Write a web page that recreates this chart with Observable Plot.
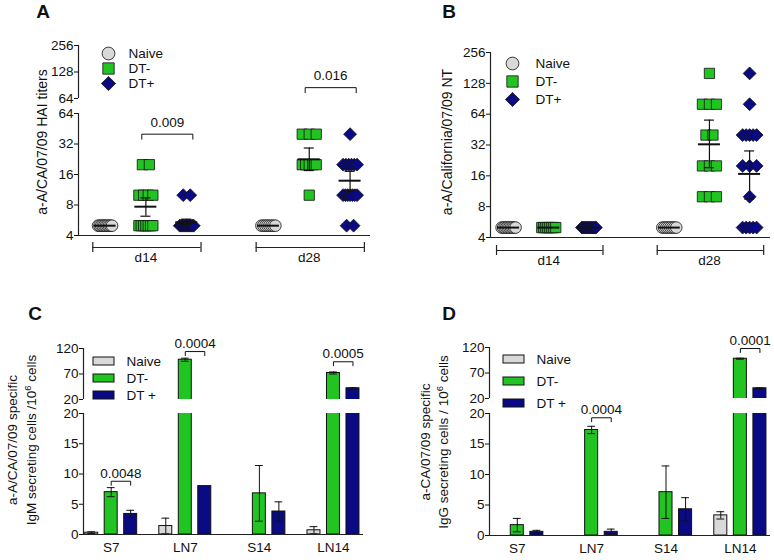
<!DOCTYPE html>
<html>
<head>
<meta charset="utf-8">
<script src="https://cdn.jsdelivr.net/npm/d3@7"></script>
<script src="https://cdn.jsdelivr.net/npm/@observablehq/plot@0.6"></script>
<style>
html,body{margin:0;padding:0;background:#fff;}
#fig{position:relative;width:774px;height:560px;overflow:hidden;background:#fff;font-family:"Liberation Sans",Arial,Helvetica,sans-serif;color:#111;}
.t{position:absolute;white-space:nowrap;}
.panel{font-weight:bold;font-size:19px;transform:translate(-50%,-50%);}
.ytitle{font-size:14px;text-align:center;transform:translate(-50%,-50%) rotate(-90deg);}
sup{font-size:70%;line-height:0;}
</style>
</head>
<body>
<div id="fig"></div>
<script>
// ---------- shared categories ----------
const series = ["Naive", "DT-", "DT+"];
const legendAB = ["Naive", "DT-", "DT+"];
const legendCD = ["Naive", "DT-", "DT +"];
const seriesColors = ["#d9d9d9", "#22c422", "#0a0a84"];
const seriesSymbols = ["circle", "square", "diamond2"];
const daysAB = ["d14", "d28"];
const organsCD = ["S7", "LN7", "S14", "LN14"];

// ---------- Panel A: HAI titers (one value per mouse) ----------
const hai_d14_Naive = [5,5,5,5,5,5,5,5,5,5];
const hai_d14_DTneg = [20,20,10,10,10,10,5,5,5,5,5,5,5];
const hai_d14_DTpos = [10,10,5,5,5,5,5,5,5,5,5,5,5];
const hai_d28_Naive = [5,5,5,5,5,5,5,5];
const hai_d28_DTneg = [40,40,40,20,20,20,20,20,10];
const hai_d28_DTpos = [40,20,20,20,20,20,20,10,10,10,10,10,10,10,5,5];
const haiMean    = [5, 7.7, 5.4, 5, 22.6, 13.9];
const haiSemLow  = [5, 6.2, 5.15, 5, 17.5, 11.1];
const haiSemHigh = [5, 9.4, 5.8, 5, 29.2, 17.2];
const haiTicksUpper = [64, 128, 256];
const haiTicksLower = [4, 8, 16, 32, 64];
const haiSigDay = ["d14", "d28"];
const haiSigLevel = [40, 85];
const haiSigLabel = ["0.009", "0.016"];

// ---------- Panel B: NT titers ----------
const nt_d14_Naive = [5,5,5,5,5,5,5,5,5,5];
const nt_d14_DTneg = [5,5,5,5,5,5,5,5];
const nt_d14_DTpos = [5,5,5,5,5,5,5,5,5,5,5,5];
const nt_d28_Naive = [5,5,5,5,5,5,5,5];
const nt_d28_DTneg = [160,80,80,80,40,40,20,20,20,10,10,10];
const nt_d28_DTpos = [160,80,40,40,40,40,40,20,20,20,10,5,5,5,5,5];
const ntMean    = [5, 5, 5, 5, 32.5, 16.7];
const ntSemLow  = [5, 5, 5, 5, 19.2, 9.5];
const ntSemHigh = [5, 5, 5, 5, 56, 28];
const ntTicks = [4, 8, 16, 32, 64, 128, 256];

// ---------- Panel C: IgM secreting cells ----------
const igmNaive    = [0.3, 1.4, null, 0.7];
const igmNaiveErr = [0.15, 1.3, null, 0.6];
const igmDTneg    = [7.0, 98, 6.8, 72];
const igmDTnegErr = [0.75, 3, 4.6, 2];
const igmDTpos    = [3.4, 8.0, 3.8, 42];
const igmDTposErr = [0.6, 0, 1.6, 1];
const igmSigOrgan = ["S7", "LN7", "LN14"];
const igmSigLevel = [8.8, 114, 94];
const igmSigLabel = ["0.0048", "0.0004", "0.0005"];

// ---------- Panel D: IgG secreting cells ----------
const iggNaive    = [null, null, null, 3.3];
const iggNaiveErr = [null, null, null, 0.6];
const iggDTneg    = [1.7, 17.3, 7.1, 98];
const iggDTnegErr = [1.1, 0.6, 4.3, 1];
const iggDTpos    = [0.6, 0.6, 4.3, 40];
const iggDTposErr = [0.25, 0.45, 1.9, 0.8];
const iggSigOrgan = ["LN7", "LN14"];
const iggSigLevel = [19.3, 118];
const iggSigLabel = ["0.0004", "0.0001"];

const cdTicksUpper = [20, 70, 120];
const cdTicksLower = [0, 5, 10, 15, 20];

// ---------- helpers ----------
const fig = document.getElementById("fig");
const FONT = '"Liberation Sans", Arial, Helvetica, sans-serif';
const INK = "#111";
const AX = "#222";
const symbolScale = {domain: series, range: seriesSymbols};
const colorScale = {domain: series, range: seriesColors};

function plot(o) {
  return Plot.plot({...o, style: {background: "transparent", overflow: "visible", fontFamily: FONT, fontSize: "13.5px", color: INK}});
}
function place(el, left, top) {
  el.style.position = "absolute";
  el.style.left = left + "px";
  el.style.top = top + "px";
  fig.appendChild(el);
  return el;
}
function addText(html, cls, cx, cy, extra) {
  const d = document.createElement("div");
  d.className = "t " + cls;
  d.innerHTML = html;
  d.style.left = cx + "px";
  d.style.top = cy + "px";
  if (extra) Object.assign(d.style, extra);
  fig.appendChild(d);
}
// horizontal spread of identical values (GraphPad-style scatter), in px
function spread(values) {
  const counts = d3.rollup(values, v => v.length, d => d);
  const seen = new Map();
  return values.map(v => {
    const n = counts.get(v), k = seen.get(v) || 0;
    seen.set(v, k + 1);
    const step = n > 1 ? Math.min(7, 14 / (n - 1)) : 0;
    return {v, off: (k - (n - 1) / 2) * step};
  });
}

// ---------- scatter panels (A, B) ----------
function scatterPanel(cfg) {
  const pxU = (cfg.frameR - cfg.frameL) / (cfg.xDom[1] - cfg.xDom[0]);
  const pos = (gi, si) => gi * 4 + si + 1;
  const pts = [];
  cfg.groups.forEach((vals, k) => {
    const gi = Math.floor(k / 3), si = k % 3;
    spread(vals).forEach(p => pts.push({x: pos(gi, si) + p.off / pxU, y: p.v, s: series[si]}));
  });
  const summ = cfg.mean.map((m, k) => ({pos: pos(Math.floor(k / 3), k % 3), mean: m, lo: cfg.lo[k], hi: cfg.hi[k]}));
  const errs = summ.filter(d => d.hi > d.lo);
  const mh = 11 / pxU, ch = 5 / pxU;
  const sigs = cfg.sigDay.map((d, i) => {
    const gi = daysAB.indexOf(d);
    return {x1: pos(gi, 1) - 0.1, x2: pos(gi, 2) + 0.15, level: cfg.sigLevel[i], label: cfg.sigLabel[i]};
  });
  cfg.segs.forEach((seg, j) => {
    const lowest = j === cfg.segs.length - 1;
    const fh = seg.frameBottom - seg.frameTop;
    const ppd = fh / Math.log2(seg.dom[1] / seg.dom[0]);
    const drop = Math.pow(2, -5 / ppd);
    const mySigs = sigs.filter(s => s.level > seg.dom[0] && s.level <= seg.dom[1]);
    const bpts = mySigs.flatMap((s, i) => [
      {x: s.x1, y: s.level * drop, id: i}, {x: s.x1, y: s.level, id: i},
      {x: s.x2, y: s.level, id: i}, {x: s.x2, y: s.level * drop, id: i}]);
    const marks = [Plot.ruleX([cfg.xDom[0]], {stroke: AX, strokeWidth: 1.2})];
    if (lowest) {
      marks.push(
        Plot.ruleY([seg.dom[0]], {stroke: AX, strokeWidth: 1.2}),
        Plot.dot(pts, {x: "x", y: "y", symbol: "s", fill: "s", stroke: INK, strokeWidth: 0.8, r: 5.8}),
        Plot.ruleX(errs, {x: "pos", y1: "lo", y2: "hi", stroke: "#111", strokeWidth: 1.2}),
        Plot.ruleY(errs, {y: "hi", x1: d => d.pos - ch, x2: d => d.pos + ch, stroke: "#111", strokeWidth: 1.2}),
        Plot.ruleY(errs, {y: "lo", x1: d => d.pos - ch, x2: d => d.pos + ch, stroke: "#111", strokeWidth: 1.2}),
        Plot.ruleY(summ, {y: "mean", x1: d => d.pos - mh, x2: d => d.pos + mh, stroke: "#111", strokeWidth: 2})
      );
    }
    marks.push(
      Plot.line(bpts, {x: "x", y: "y", z: "id", stroke: INK, strokeWidth: 1}),
      Plot.text(mySigs, {x: d => (d.x1 + d.x2) / 2, y: "level", text: "label", dy: -12})
    );
    const svg = plot({
      width: cfg.frameR - cfg.left + 4,
      height: seg.frameBottom - seg.top + 4,
      marginLeft: cfg.frameL - cfg.left, marginRight: 4,
      marginTop: seg.frameTop - seg.top, marginBottom: 4,
      x: {domain: cfg.xDom, axis: null},
      y: {type: "log", base: 2, domain: seg.dom, ticks: seg.ticks, tickFormat: "d", tickSize: 4, tickPadding: 1, label: null},
      symbol: symbolScale, color: colorScale,
      marks
    });
    place(svg, cfg.left, seg.top);
  });
  // group brackets + day labels under the axis
  const spans = daysAB.map((d, gi) => ({a: pos(gi, 0) - 0.3, b: pos(gi, 2) + 0.35, c: pos(gi, 1), label: d}));
  const ends = spans.flatMap(s => [s.a, s.b]);
  const bsvg = plot({
    width: cfg.frameR - cfg.left + 4, height: 3 + 10 + 22,
    marginLeft: cfg.frameL - cfg.left, marginRight: 4, marginTop: 3, marginBottom: 22,
    x: {domain: cfg.xDom, axis: null}, y: {domain: [0, 1], axis: null},
    marks: [
      Plot.ruleY(spans, {y: () => 0.5, x1: "a", x2: "b", stroke: AX, strokeWidth: 1.2}),
      Plot.tickX(ends, {x: d => d, stroke: AX, strokeWidth: 1.2}),
      Plot.text(spans, {x: "c", text: "label", frameAnchor: "bottom", dy: 9})
    ]
  });
  place(bsvg, cfg.left, cfg.bracketY - 8);
}

function symbolLegend(cx, cy0, spacing, dx, labels) {
  const mt = 8;
  const svg = plot({
    width: 100, height: 2 * mt + 2 * spacing,
    marginTop: mt, marginBottom: mt, marginLeft: 8, marginRight: 0,
    y: {type: "point", domain: series, padding: 0, axis: null},
    symbol: symbolScale, color: colorScale,
    marks: [
      Plot.dot(series, {y: d => d, symbol: d => d, fill: d => d, stroke: INK, strokeWidth: 0.8, r: 6.4, frameAnchor: "left"}),
      Plot.text(series, {y: d => d, text: (d, i) => labels[i], frameAnchor: "left", dx, textAnchor: "start"})
    ]
  });
  place(svg, cx - 8, cy0 - mt);
}

// ---------- bar panels (C, D) ----------
const GAP = 3.8;
const xDomCD = [-0.42, 13.94];
function barPanel(cfg) {
  const rows = [];
  organsCD.forEach((g, gi) => series.forEach((s, si) => {
    const v = cfg.vals[si][gi];
    if (v == null) return;
    rows.push({g, s, pos: gi * GAP + si, v, e: cfg.errs[si][gi] || 0});
  }));
  const er = rows.filter(d => d.e > 0);
  const hw = 0.333, cw = 0.2;
  const centers = organsCD.map((g, gi) => gi * GAP + 1);
  const sigs = cfg.sigOrgan.map((g, i) => {
    const gi = organsCD.indexOf(g);
    return {x1: gi * GAP + 1, x2: gi * GAP + 2, level: cfg.sigLevel[i], label: cfg.sigLabel[i]};
  });
  const segs = [
    {...cfg.upper, dom: [20, 120], ticks: cdTicksUpper, lowest: false},
    {...cfg.lower, dom: [0, 20], ticks: cdTicksLower, lowest: true}
  ];
  segs.forEach(seg => {
    const fh = seg.frameBottom - seg.frameTop;
    const ppu = fh / (seg.dom[1] - seg.dom[0]);
    const drop = 4 / ppu;
    const mySigs = sigs.filter(s => s.level > seg.dom[0] && s.level <= seg.dom[1]);
    const bpts = mySigs.flatMap((s, i) => [
      {x: s.x1, y: s.level - drop, id: i}, {x: s.x1, y: s.level, id: i},
      {x: s.x2, y: s.level, id: i}, {x: s.x2, y: s.level - drop, id: i}]);
    const marks = [
      Plot.rect(rows, {x1: d => d.pos - hw, x2: d => d.pos + hw, y1: () => 0, y2: "v", fill: "s", stroke: INK, strokeWidth: 1, clip: true}),
      Plot.ruleX(er, {x: "pos", y1: d => d.v - d.e, y2: d => d.v + d.e, stroke: "#111", strokeWidth: 1, clip: true}),
      Plot.ruleY(er, {y: d => d.v + d.e, x1: d => d.pos - cw, x2: d => d.pos + cw, stroke: "#111", strokeWidth: 1, clip: true}),
      Plot.ruleY(er, {y: d => d.v - d.e, x1: d => d.pos - cw, x2: d => d.pos + cw, stroke: "#111", strokeWidth: 1, clip: true}),
      Plot.ruleX([xDomCD[0]], {stroke: AX, strokeWidth: 1.2})
    ];
    if (seg.lowest) marks.push(Plot.ruleY([0], {stroke: AX, strokeWidth: 1.2}));
    marks.push(
      Plot.line(bpts, {x: "x", y: "y", z: "id", stroke: INK, strokeWidth: 1}),
      Plot.text(mySigs, {x: d => (d.x1 + d.x2) / 2, y: "level", text: "label", dy: -8})
    );
    const mb = seg.lowest ? 30 : 2;
    const svg = plot({
      width: cfg.frameR - cfg.left + 4,
      height: seg.frameBottom - seg.top + mb,
      marginLeft: cfg.frameL - cfg.left, marginRight: 4,
      marginTop: seg.frameTop - seg.top, marginBottom: mb,
      x: seg.lowest
        ? {domain: xDomCD, ticks: centers, tickFormat: d => organsCD[Math.round((d - 1) / GAP)], tickSize: 0, tickPadding: 8, label: null}
        : {domain: xDomCD, axis: null},
      y: {domain: seg.dom, ticks: seg.ticks, tickSize: 4, tickPadding: 1, label: null},
      color: colorScale,
      marks
    });
    place(svg, cfg.left, seg.top);
  });
}

function barLegend(left, cy0, spacing, labels) {
  const bw = 8, p = 1 - bw / spacing, H = spacing * (3 - p);
  const svg = plot({
    width: 100, height: H, marginTop: 0, marginBottom: 0, marginLeft: 0, marginRight: 79,
    x: {domain: [0, 1], axis: null},
    y: {type: "band", domain: series, paddingInner: p, paddingOuter: 0, axis: null},
    color: colorScale,
    marks: [
      Plot.barX(series, {y: d => d, x1: () => 0, x2: () => 1, fill: d => d, stroke: INK, strokeWidth: 1}),
      Plot.text(series, {y: d => d, x: () => 1, text: (d, i) => labels[i], dx: 12, textAnchor: "start"})
    ]
  });
  place(svg, left, cy0 - bw / 2);
}

// ---------- draw ----------
scatterPanel({
  left: 0, frameL: 78, frameR: 370, xDom: [0.35, 7.5],
  segs: [
    {top: 30, frameTop: 45, frameBottom: 98, dom: [64, 256], ticks: haiTicksUpper},
    {top: 100, frameTop: 113, frameBottom: 235, dom: [4, 64], ticks: haiTicksLower}
  ],
  groups: [hai_d14_Naive, hai_d14_DTneg, hai_d14_DTpos, hai_d28_Naive, hai_d28_DTneg, hai_d28_DTpos],
  mean: haiMean, lo: haiSemLow, hi: haiSemHigh,
  sigDay: haiSigDay, sigLevel: haiSigLevel, sigLabel: haiSigLabel,
  bracketY: 247
});
symbolLegend(108, 51.7, 15.5, 20, legendAB);

scatterPanel({
  left: 390, frameL: 490, frameR: 770, xDom: [0.55, 7.52],
  segs: [{top: 30, frameTop: 52, frameBottom: 237, dom: [4, 256], ticks: ntTicks}],
  groups: [nt_d14_Naive, nt_d14_DTneg, nt_d14_DTpos, nt_d28_Naive, nt_d28_DTneg, nt_d28_DTpos],
  mean: ntMean, lo: ntSemLow, hi: ntSemHigh,
  sigDay: [], sigLevel: [], sigLabel: [],
  bracketY: 250
});
symbolLegend(512, 62, 18.5, 23, legendAB);

barPanel({
  left: 0, frameL: 83, frameR: 363,
  upper: {top: 330, frameTop: 348, frameBottom: 399},
  lower: {top: 400, frameTop: 413, frameBottom: 534},
  vals: [igmNaive, igmDTneg, igmDTpos], errs: [igmNaiveErr, igmDTnegErr, igmDTposErr],
  sigOrgan: igmSigOrgan, sigLevel: igmSigLevel, sigLabel: igmSigLabel
});
barLegend(93, 360, 17.5, legendCD);

barPanel({
  left: 390, frameL: 489, frameR: 770,
  upper: {top: 330, frameTop: 347, frameBottom: 398},
  lower: {top: 400, frameTop: 413, frameBottom: 535},
  vals: [iggNaive, iggDTneg, iggDTpos], errs: [iggNaiveErr, iggDTnegErr, iggDTposErr],
  sigOrgan: iggSigOrgan, sigLevel: iggSigLevel, sigLabel: iggSigLabel
});
barLegend(503, 359, 22, legendCD);

// panel letters and axis titles
addText("A", "panel", 43, 12);
addText("B", "panel", 449, 12);
addText("C", "panel", 35, 314);
addText("D", "panel", 449, 314);
addText("a-A/CA/07/09 HAI titers", "ytitle", 42, 142);
addText("a-A/California/07/09 NT", "ytitle", 447, 142);
addText("a-A/CA/07/09 specific<br>IgM secreting cells /10<sup>6</sup> cells", "ytitle", 22, 440, {fontSize: "13.5px", lineHeight: "19px"});
addText("a-CA/07/09 specific<br>IgG secreting cells / 10<sup>6</sup> cells", "ytitle", 435, 442, {fontSize: "13.5px", lineHeight: "18px"});
</script>
</body>
</html>
